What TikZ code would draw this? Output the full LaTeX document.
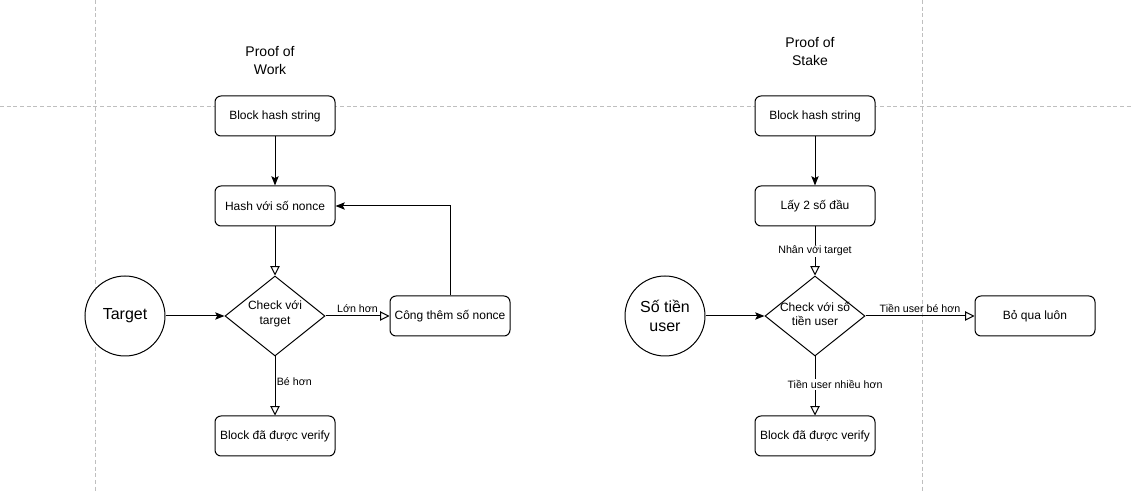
\documentclass[tikz,border=0pt]{standalone}
\usepackage{fontspec}
\setmainfont{Liberation Sans}
\usetikzlibrary{shapes.geometric,arrows.meta}
\begin{document}
\begin{tikzpicture}[x=0.75pt,y=-0.75pt,
  every node/.style={font=\fontsize{9}{11}\selectfont},
  box/.style={draw,line width=0.75pt,rounded corners=4.5pt,minimum width=90pt,minimum height=30pt,fill=white,inner sep=0pt},
  dia/.style={draw,line width=0.75pt,diamond,minimum width=75pt,minimum height=60pt,inner sep=0pt,fill=white},
  diatext/.style={align=center,inner sep=0pt},
  circ/.style={draw,line width=0.75pt,circle,minimum size=60pt,inner sep=0pt,fill=white,align=center,font=\fontsize{12}{14}\selectfont},
  title/.style={align=center,font=\fontsize{10.5}{13.5}\selectfont},
  elabel/.style={font=\fontsize{8}{10}\selectfont,inner sep=1pt},
  conn/.style={line width=0.75pt},
  filled/.style={conn,-{Stealth[length=7pt,width=5.5pt,inset=1.5pt]}},
  hollow/.style={conn,-{Triangle[open,length=7pt,width=7pt,fill=white]}},
  grid/.style={draw=black!25,line width=0.6pt,dash pattern=on 3pt off 2pt}
]
\useasboundingbox (0,0) rectangle (1133,491);
\fill[white] (0,0) rectangle (1133,491);
% grid lines
\draw[grid] (95,0) -- (95,491);
\draw[grid] (922,0) -- (922,491);
\draw[grid] (0,106) -- (1133,106);

% Proof of Work
\node[title] (t1) at (270,61) {Proof of\\Work};
\node[box] (b1) at (275,116) {Block hash string};
\node[box] (h1) at (275,206) {Hash với số nonce};
\node[dia] (d1) at (275,316) {};
\node[diatext] (d1t) at (275,314) {Check với\\target};
\node[circ] (c1) at (125,316) {Target};
\node[box] (n1) at (450,316) {Công thêm số nonce};
\node[box] (v1) at (275,436) {Block đã được verify};
\coordinate (k1) at (450,206);

\draw[filled] (b1) -- (h1);
\draw[hollow] (h1) -- (d1);
\draw[filled] (c1) -- (d1);
\draw[hollow] (d1) -- node[elabel,above,yshift=1.5pt] {Lớn hơn} (n1);
\draw[hollow] (d1) -- node[elabel,right,pos=0.42] {Bé hơn} (v1);
\draw[filled] (n1.north) -- (k1) -- (h1.east);

% Proof of Stake
\node[title] (t2) at (810,52) {Proof of\\Stake};
\node[box] (b2) at (815,116) {Block hash string};
\node[box] (l2) at (815,206) {Lấy 2 số đầu};
\node[dia] (d2) at (815,316) {};
\node[diatext] (d2t) at (815,314) {Check với số\\tiền user};
\node[circ] (c2) at (665,316) {Số tiền\\user};
\node[box] (q2) at (1035,316) {Bỏ qua luôn};
\node[box] (v2) at (815,436) {Block đã được verify};

\draw[filled] (b2) -- (l2);
\draw[hollow] (l2) -- node[elabel,fill=white,pos=0.5] {Nhân với target} (d2);
\draw[filled] (c2) -- (d2);
\draw[hollow] (d2) -- node[elabel,above,pos=0.5,yshift=1.5pt] {Tiền user bé hơn} (q2);
\draw[hollow] (d2) -- node[elabel,fill=white,pos=0.47,xshift=15pt] {Tiền user nhiều hơn} (v2);
\end{tikzpicture}
\end{document}
